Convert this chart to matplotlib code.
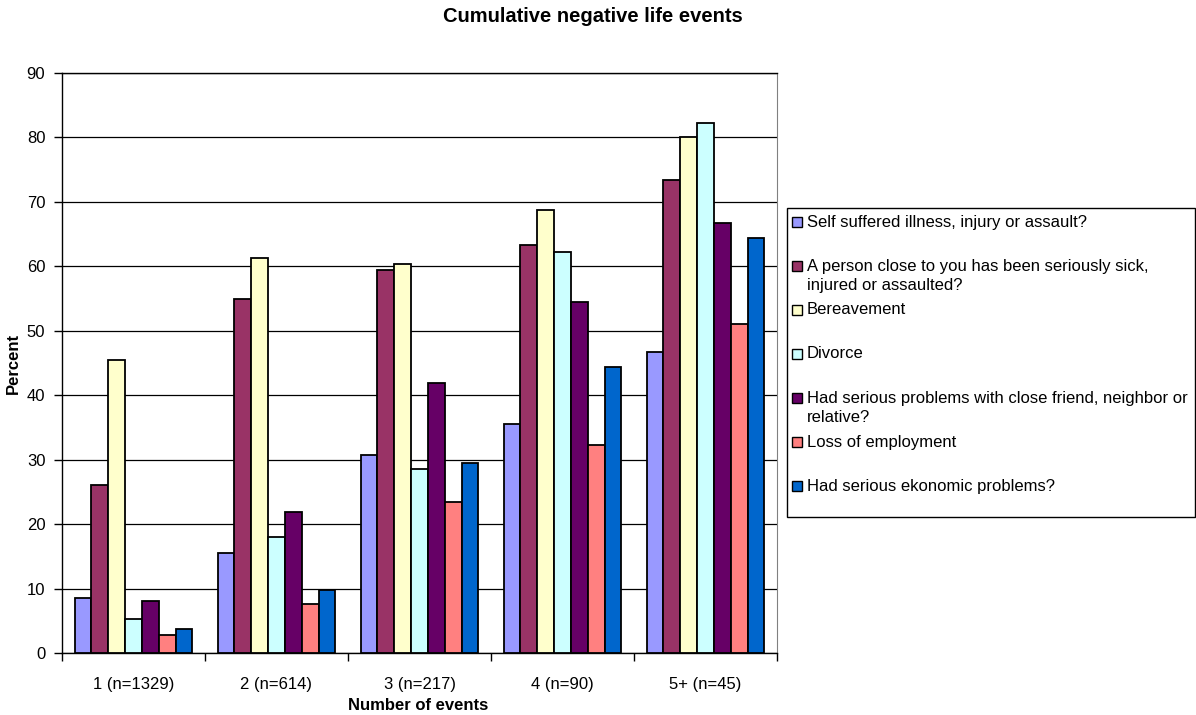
import numpy as np
import matplotlib.pyplot as plt
from matplotlib.patches import Rectangle

plt.rcParams['font.family'] = ['Liberation Sans', 'DejaVu Sans']

categories = ["1 (n=1329)", "2 (n=614)", "3 (n=217)", "4 (n=90)", "5+ (n=45)"]

series_names = [
    "Self suffered illness, injury or assault?",
    "A person close to you has been seriously sick,\ninjured or assaulted?",
    "Bereavement",
    "Divorce",
    "Had serious problems with close friend, neighbor or\nrelative?",
    "Loss of employment",
    "Had serious ekonomic problems?",
]

self_illness = [8.5, 15.5, 30.8, 35.5, 46.7]
close_person_sick = [26.1, 55.0, 59.4, 63.3, 73.4]
bereavement = [45.5, 61.3, 60.3, 68.8, 80.0]
divorce = [5.3, 18.0, 28.5, 62.2, 82.2]
social_problems = [8.0, 21.9, 41.9, 54.4, 66.7]
job_loss = [2.8, 7.6, 23.5, 32.2, 51.1]
economic_problems = [3.8, 9.8, 29.5, 44.4, 64.4]

series_values = [self_illness, close_person_sick, bereavement, divorce,
                 social_problems, job_loss, economic_problems]

colors = ["#9999FF", "#993366", "#FFFFCC", "#CCFFFF", "#660066", "#FF8080", "#0066CC"]

W, H = 1196, 715
fig = plt.figure(figsize=(W / 100, H / 100), dpi=100)
ax = fig.add_axes([62 / W, 1 - 653 / H, (777 - 62) / W, (653 - 73) / H])

x = np.arange(len(categories))
width = 0.1175
for i, (vals, col) in enumerate(zip(series_values, colors)):
    ax.bar(x + (i - 3) * width, vals, width, color=col, edgecolor="black",
           linewidth=1.3, zorder=3)

ax.set_xlim(-0.5, len(categories) - 0.5)
ax.set_ylim(0, 90)
ax.set_yticks(range(0, 91, 10))
ax.set_xticks(x)
ax.set_xticklabels(categories, fontsize=12)
ax.set_xticks(np.arange(-0.5, len(categories), 1), minor=True)
ax.tick_params(axis="x", which="major", length=0, pad=17)
ax.tick_params(axis="x", which="minor", length=6, width=1, direction="out")
ax.tick_params(axis="y", length=6, width=1, direction="out", labelsize=12, pad=6)

ax.yaxis.grid(True, color="black", linewidth=0.9, zorder=0)
ax.set_axisbelow(True)
ax.spines["right"].set_color("#808080")
for side in ["left", "bottom", "top"]:
    ax.spines[side].set_color("black")
    ax.spines[side].set_linewidth(1.0)


def fx(px):
    return px / W


def fy(py):
    return 1 - py / H


fig.text(fx(13), fy(363), "Percent", rotation=90, ha="center", va="center",
         fontsize=12, fontweight="bold")
fig.text(fx(418), fy(706), "Number of events", ha="center", va="center",
         fontsize=12, fontweight="bold")
fig.text(fx(593), fy(16), "Cumulative negative life events", ha="center",
         va="center", fontsize=14.5, fontweight="bold")

# legend box on the right, one fixed slot per series
fig.patches.append(Rectangle((fx(787), fy(517)), fx(1195) - fx(787), fy(208) - fy(517),
                             transform=fig.transFigure, facecolor="white",
                             edgecolor="black", linewidth=1.0))
slot0, slot_step, line_step = 222, 44, 19.3
for i, (name, col) in enumerate(zip(series_names, colors)):
    cy = slot0 + i * slot_step
    fig.patches.append(Rectangle((fx(792), fy(cy + 5)), fx(10), 10 / H,
                                 transform=fig.transFigure, facecolor=col,
                                 edgecolor="black", linewidth=1.0))
    for k, line in enumerate(name.split("\n")):
        fig.text(fx(807), fy(cy + k * line_step), line, ha="left",
                 va="center", fontsize=12)

fig.savefig("out.png", dpi=100)
